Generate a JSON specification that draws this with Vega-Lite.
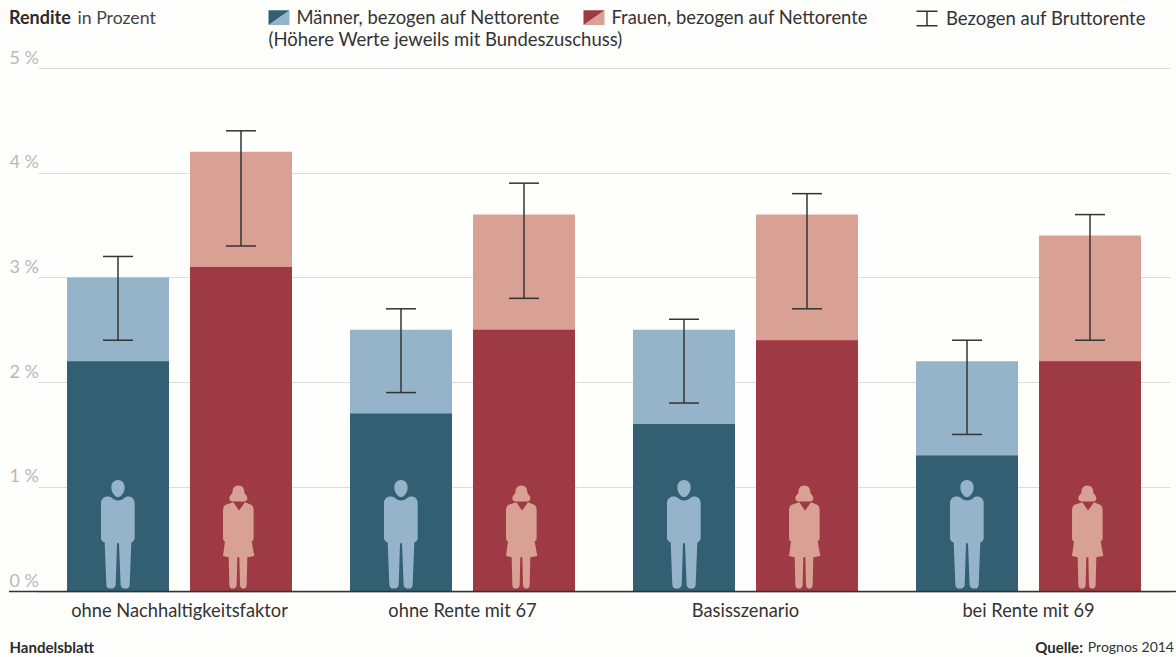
{
  "$schema": "https://vega.github.io/schema/vega-lite/v6.json",
  "width": 1167,
  "height": 523.5,
  "autosize": {"type": "none"},
  "padding": {"left": 9, "top": 68, "right": 0, "bottom": 65.5},
  "background": "#fefefd",
  "view": {"stroke": null},
  "title": {"text": "Rendite", "anchor": "start", "frame": "group", "offset": -21, "font": "Lato", "fontSize": 18, "fontWeight": "bold", "color": "#2b2b2b"},
  "data": {"values": [
    {"szenario": "ohne Nachhaltigkeitsfaktor", "gruppe": "Männer, bezogen auf Nettorente", "geschlecht": "m", "netto": 2.2, "netto_zuschuss": 3.0, "brutto": 2.4, "brutto_zuschuss": 3.2},
    {"szenario": "ohne Nachhaltigkeitsfaktor", "gruppe": "Frauen, bezogen auf Nettorente", "geschlecht": "w", "netto": 3.1, "netto_zuschuss": 4.2, "brutto": 3.3, "brutto_zuschuss": 4.4},
    {"szenario": "ohne Rente mit 67", "gruppe": "Männer, bezogen auf Nettorente", "geschlecht": "m", "netto": 1.7, "netto_zuschuss": 2.5, "brutto": 1.9, "brutto_zuschuss": 2.7},
    {"szenario": "ohne Rente mit 67", "gruppe": "Frauen, bezogen auf Nettorente", "geschlecht": "w", "netto": 2.5, "netto_zuschuss": 3.6, "brutto": 2.8, "brutto_zuschuss": 3.9},
    {"szenario": "Basisszenario", "gruppe": "Männer, bezogen auf Nettorente", "geschlecht": "m", "netto": 1.6, "netto_zuschuss": 2.5, "brutto": 1.8, "brutto_zuschuss": 2.6},
    {"szenario": "Basisszenario", "gruppe": "Frauen, bezogen auf Nettorente", "geschlecht": "w", "netto": 2.4, "netto_zuschuss": 3.6, "brutto": 2.7, "brutto_zuschuss": 3.8},
    {"szenario": "bei Rente mit 69", "gruppe": "Männer, bezogen auf Nettorente", "geschlecht": "m", "netto": 1.3, "netto_zuschuss": 2.2, "brutto": 1.5, "brutto_zuschuss": 2.4},
    {"szenario": "bei Rente mit 69", "gruppe": "Frauen, bezogen auf Nettorente", "geschlecht": "w", "netto": 2.2, "netto_zuschuss": 3.4, "brutto": 2.4, "brutto_zuschuss": 3.6}
  ]},
  "encoding": {
    "x": {
      "field": "szenario", "type": "nominal", "sort": null,
      "scale": {"range": [29, 1161], "paddingInner": 0, "paddingOuter": 0},
      "axis": {
        "title": "Handelsblatt", "titleFont": "Lato", "titleFontSize": 15, "titleFontWeight": "bold", "titleColor": "#2b2b2b",
        "titleX": 0, "titleY": 56, "titleAlign": "left", "titleBaseline": "middle",
        "labelAngle": 0, "labelFont": "Lato", "labelFontSize": 18.3, "labelColor": "#333333", "labelPadding": 11, "labelLimit": 320,
        "domain": false, "ticks": false, "grid": false
      }
    },
    "xOffset": {
      "field": "gruppe", "type": "nominal", "sort": null,
      "scale": {"paddingInner": 0.1707, "paddingOuter": 0.2358}
    },
    "y": {
      "type": "quantitative",
      "scale": {"domain": [0, 5], "nice": false},
      "axis": {
        "title": "in Prozent", "titleFont": "Lato", "titleFontSize": 17.7, "titleFontWeight": "normal", "titleColor": "#444444",
        "titleAngle": 0, "titleX": 68, "titleY": -50, "titleAlign": "left", "titleBaseline": "middle",
        "values": [0, 1, 2, 3, 4, 5], "labelExpr": "datum.value + ' %'",
        "labelAlign": "left", "labelBaseline": "bottom", "labelPadding": 0, "labelOffset": -1,
        "labelFont": "Lato", "labelFontSize": 18, "labelColor": "#b8b8b8",
        "domain": false, "ticks": false, "tickSize": 0,
        "grid": true, "gridColor": "#dcdcdc", "gridWidth": 1.2
      }
    }
  },
  "layer": [
    {
      "mark": {"type": "bar"},
      "encoding": {
        "y": {"field": "netto_zuschuss", "type": "quantitative", "stack": null},
        "fill": {
          "field": "gruppe", "type": "nominal", "sort": null,
          "scale": {"range": ["#96b4c9", "#d9a094"]},
          "legend": {
            "orient": "none", "legendX": 259.5, "legendY": -61, "direction": "horizontal", "columns": 2, "columnPadding": 24,
            "title": null,
            "labelFont": "Lato", "labelFontSize": 18.4, "labelColor": "transparent", "labelLimit": 400, "labelOffset": 7,
            "symbolType": "M1 -0.7V0.7H-1Z", "symbolSize": 441, "symbolStrokeWidth": 0
          }
        }
      }
    },
    {
      "mark": {"type": "bar"},
      "encoding": {
        "y": {"field": "netto", "type": "quantitative", "stack": null},
        "color": {
          "field": "gruppe", "type": "nominal", "sort": null,
          "scale": {"domain": ["Männer, bezogen auf Nettorente", "Frauen, bezogen auf Nettorente"], "range": ["#326072", "#9e3a44"]},
          "legend": {
            "orient": "none", "legendX": 259.5, "legendY": -61, "direction": "horizontal", "columns": 2, "columnPadding": 24,
            "title": "(Höhere Werte jeweils mit Bundeszuschuss)", "titleOrient": "bottom", "titleAnchor": "start", "titlePadding": 4,
            "titleFont": "Lato", "titleFontSize": 18.5, "titleFontWeight": "normal", "titleColor": "#333333", "titleLimit": 500,
            "labelFont": "Lato", "labelFontSize": 18.4, "labelColor": "#333333", "labelLimit": 400, "labelOffset": 7,
            "symbolType": "M-1 -0.7H1L-1 0.7Z", "symbolSize": 441, "symbolStrokeWidth": 0
          }
        }
      }
    },
    {
      "mark": {"type": "rule", "strokeWidth": 1.5},
      "encoding": {
        "y": {"field": "brutto", "type": "quantitative"},
        "y2": {"field": "brutto_zuschuss"},
        "stroke": {
          "datum": "Bezogen auf Bruttorente",
          "scale": {"range": ["#333333"]},
          "legend": {
            "orient": "none", "legendX": 906.5, "legendY": -61, "title": null,
            "labelFont": "Lato", "labelFontSize": 18.5, "labelColor": "#333333", "labelLimit": 400, "labelOffset": 7.5,
            "symbolType": "M-1 -0.7H1M0 -0.7V0.7M-1 0.7H1", "symbolSize": 441, "symbolStrokeWidth": 1.5, "symbolFillColor": "transparent"
          }
        }
      }
    },
    {
      "mark": {"type": "tick", "size": 30, "thickness": 1.5, "color": "#333333", "opacity": 1},
      "encoding": {"y": {"field": "brutto", "type": "quantitative"}}
    },
    {
      "mark": {"type": "tick", "size": 30, "thickness": 1.5, "color": "#333333", "opacity": 1},
      "encoding": {"y": {"field": "brutto_zuschuss", "type": "quantitative"}}
    },
    {
      "mark": {"type": "point", "filled": true, "opacity": 1, "size": 12100},
      "encoding": {
        "y": {"datum": 0.55},
        "fill": {"field": "gruppe", "type": "nominal", "sort": null},
        "shape": {
          "field": "geschlecht", "type": "nominal", "sort": null, "legend": null,
          "scale": {
            "range": [
              "M0 -0.982C0.07 -0.982 0.121 -0.93 0.121 -0.85C0.121 -0.76 0.06 -0.67 0 -0.67C-0.06 -0.67 -0.121 -0.76 -0.121 -0.85C-0.121 -0.93 -0.07 -0.982 0 -0.982ZM0 -0.606C0.05 -0.606 0.09 -0.63 0.109 -0.648C0.14 -0.68 0.17 -0.679 0.2 -0.679C0.27 -0.67 0.303 -0.62 0.303 -0.558L0.303 0.079C0.303 0.12 0.27 0.15 0.242 0.152L0.212 0.927C0.21 0.97 0.18 0.994 0.139 0.994C0.09 0.994 0.05 0.97 0.048 0.927L0.018 0.17L-0.018 0.17L-0.042 0.927C-0.045 0.97 -0.09 0.994 -0.133 0.994C-0.18 0.994 -0.21 0.97 -0.212 0.927L-0.242 0.152C-0.27 0.15 -0.309 0.12 -0.309 0.079L-0.309 -0.558C-0.309 -0.62 -0.27 -0.67 -0.206 -0.679C-0.17 -0.679 -0.14 -0.68 -0.103 -0.648C-0.08 -0.63 -0.05 -0.606 0 -0.606Z",
              "M-0.048 -0.879C0.03 -0.879 0.06 -0.82 0.06 -0.76C0.06 -0.72 0.115 -0.7 0.115 -0.65C0.115 -0.6 0.07 -0.59 0.05 -0.59L-0.15 -0.59C-0.18 -0.59 -0.212 -0.61 -0.212 -0.65C-0.212 -0.7 -0.155 -0.72 -0.155 -0.76C-0.155 -0.82 -0.125 -0.879 -0.048 -0.879ZM-0.139 -0.576L-0.036 -0.424L0.073 -0.576L0.194 -0.527C0.215 -0.51 0.23 -0.47 0.23 -0.436L0.23 0.079C0.23 0.11 0.21 0.13 0.194 0.139L0.242 0.4L0.115 0.424L0.103 0.927C0.1 0.97 0.08 0.994 0.042 0.994C0.01 0.994 -0.015 0.97 -0.018 0.927L-0.03 0.424L-0.067 0.424L-0.079 0.927C-0.082 0.97 -0.11 0.994 -0.152 0.994C-0.19 0.994 -0.21 0.97 -0.212 0.927L-0.224 0.424L-0.327 0.4L-0.291 0.139C-0.31 0.13 -0.327 0.11 -0.327 0.079L-0.327 -0.436C-0.327 -0.47 -0.31 -0.51 -0.291 -0.527Z"
            ]
          }
        }
      }
    },
    {
      "data": {"values": [{"linie": 0}]},
      "mark": {"type": "rule", "color": "#333333", "strokeWidth": 1.6},
      "encoding": {"x": null, "xOffset": null, "y": {"field": "linie", "type": "quantitative"}}
    },
    {
      "data": {"values": [{"quelle": "Prognos 2014", "szenario": "bei Rente mit 69", "lage": -0.535}]},
      "mark": {"type": "text", "align": "right", "baseline": "middle", "dx": 145.5, "font": "Lato", "fontSize": 14, "color": "#333333"},
      "encoding": {"xOffset": null, "y": {"field": "lage", "type": "quantitative"}, "text": {"field": "quelle"}}
    },
    {
      "data": {"values": [{"quelle": "Quelle:", "szenario": "bei Rente mit 69", "lage": -0.535}]},
      "mark": {"type": "text", "align": "right", "baseline": "middle", "dx": 54.5, "font": "Lato", "fontSize": 15, "fontWeight": "bold", "color": "#2b2b2b"},
      "encoding": {"xOffset": null, "y": {"field": "lage", "type": "quantitative"}, "text": {"field": "quelle"}}
    }
  ]
}
